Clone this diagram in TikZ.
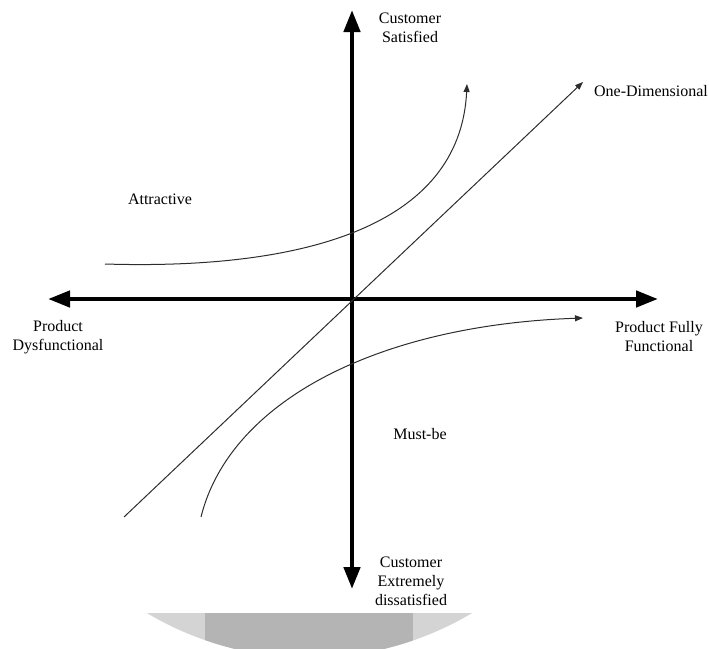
\documentclass[tikz,border=0pt]{standalone}
\usepackage{fontspec}
\setmainfont{Liberation Serif}
\usetikzlibrary{arrows.meta}
\definecolor{lightcap}{RGB}{212,212,212}
\definecolor{darkcap}{RGB}{180,180,180}
\definecolor{curvecol}{RGB}{45,45,45}
\begin{document}
\begin{tikzpicture}[x=1pt,y=-1pt,
  biaxis/.style={line width=4.5pt,
    {Triangle[length=22pt,width=16pt]}-{Triangle[length=22pt,width=16pt]}},
  thinarrow/.style={line width=1pt, draw=curvecol, -{Triangle[length=8pt,width=6pt]}},
  lbl/.style={font=\fontsize{16}{19}\selectfont, align=center, inner sep=0pt, text=black}]
\useasboundingbox (0,0) rectangle (709,648);
% grey cap at the bottom
\begin{scope}
  \clip (0,613) rectangle (709,648);
  \fill[lightcap] (309.5,339.7) circle[radius=318pt];
  \clip (309.5,339.7) circle[radius=318pt];
  \fill[darkcap] (205,600) rectangle (413,660);
\end{scope}
% axes
\coordinate (O) at (352,299);
\coordinate (W) at (48,299);
\coordinate (E) at (658,299);
\coordinate (N) at (352,10);
\coordinate (S) at (352,589);
\draw[biaxis] (W) -- (E);
\draw[biaxis] (S) -- (N);
\fill (O) circle[radius=3pt];
% curves
\coordinate (d1) at (124,517);
\coordinate (d2) at (583,82);
\coordinate (a1) at (105,264);
\coordinate (a2) at (467,84);
\coordinate (m1) at (201,517);
\coordinate (m2) at (583,318);
\draw[thinarrow] (d1) -- (d2);
\draw[thinarrow] (a1) .. controls (300,270) and (460,228) .. (a2);
\draw[thinarrow] (m1) .. controls (230,400) and (380,325) .. (m2);
% labels
\node[lbl] (sat) at (410,28) {Customer\\Satisfied};
\node[lbl] (oned) at (651,91) {One-Dimensional};
\node[lbl] (attr) at (160,199) {Attractive};
\node[lbl] (dys) at (58,337) {Product\\Dysfunctional};
\node[lbl] (ful) at (659,337) {Product Fully\\Functional};
\node[lbl] (must) at (420,434) {Must-be};
\node[lbl] (dis) at (411,581) {Customer\\Extremely\\dissatisfied};
\end{tikzpicture}
\end{document}
